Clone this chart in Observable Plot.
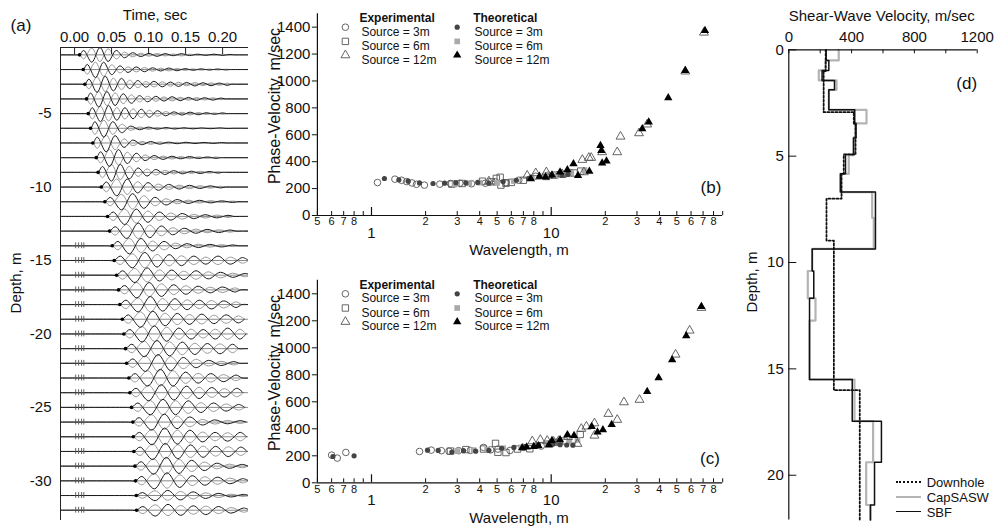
<!DOCTYPE html>
<html>
<head>
<meta charset="utf-8">
<script src="https://cdn.jsdelivr.net/npm/d3@7"></script>
<script src="https://cdn.jsdelivr.net/npm/@observablehq/plot@0.6"></script>
<style>
  html, body { margin: 0; padding: 0; background: #fff; overflow: hidden; }
  #fig { position: relative; width: 994px; height: 531px; font-family: "Liberation Sans", Arial, sans-serif; color: #111; }
  #fig svg { position: absolute; left: 0; top: 0; max-width: none !important; }
  .lbl { position: absolute; white-space: nowrap; line-height: 1; transform: translate(-50%, -50%); }
  .lbl.rot { transform: translate(-50%, -50%) rotate(-90deg); }
  .lg { position: absolute; font-size: 13px; line-height: 1; transform: translateY(-50%); white-space: nowrap; }
  .lgline { position: absolute; width: 25px; height: 0; }
</style>
</head>
<body>
<div id="fig"></div>
<script>
// ---------------- Panel (a): downhole seismograms ----------------
const traceDepth = [1,2,3,4,5,6,7,8,9,10,11,12,13,14,15,16,17,18,19,20,21,22,23,24,25,26,27,28,29,30,31,32];
const arrival = [0.0068,0.0117,0.0139,0.0162,0.0185,0.0216,0.0247,0.0293,0.0318,0.0361,0.0409,0.0446,0.0473,0.0509,0.0536,0.0568,0.0595,0.0612,0.0645,0.0666,0.0689,0.0703,0.0734,0.0747,0.0770,0.0788,0.0793,0.0801,0.0815,0.0824,0.0834,0.0838];
const period = [0.022,0.022,0.022,0.022,0.022,0.024,0.024,0.024,0.024,0.028,0.030,0.031,0.031,0.031,0.033,0.033,0.033,0.033,0.033,0.033,0.034,0.034,0.034,0.034,0.034,0.034,0.034,0.034,0.034,0.034,0.034,0.034];
const traceAmps = [
  [0.3,0.5,0.5,0.45,0.3,0.2,0.15,0.12,0.1,0.1,0.08,0.06,0.08,0.05,0.05,0.04,0.05,0.04,0.03],
  [0.35,0.55,0.5,0.35,0.25,0.2,0.18,0.15,0.12,0.1,0.1,0.08,0.06,0.05,0.05,0.04,0.04,0.03],
  [0.35,0.55,0.55,0.45,0.4,0.3,0.25,0.2,0.2,0.18,0.15,0.15,0.12,0.12,0.1,0.1,0.08,0.08],
  [0.4,0.55,0.5,0.45,0.35,0.3,0.22,0.2,0.18,0.15,0.15,0.12,0.1,0.1,0.08,0.08,0.06],
  [0.4,0.55,0.55,0.45,0.4,0.35,0.3,0.25,0.2,0.15,0.12,0.1,0.1,0.08,0.06,0.05,0.05],
  [0.45,0.6,0.45,0.3,0.15,0.1,0.08,0.06,0.05,0.05,0.04,0.04,0.03,0.03,0.03,0.02],
  [0.4,0.6,0.5,0.3,0.2,0.12,0.1,0.08,0.06,0.05,0.05,0.04,0.04,0.03,0.03],
  [0.4,0.6,0.55,0.4,0.3,0.2,0.15,0.12,0.1,0.08,0.08,0.06,0.05,0.05],
  [0.4,0.6,0.55,0.45,0.3,0.25,0.2,0.15,0.12,0.1,0.08,0.08,0.06,0.05],
  [0.35,0.6,0.55,0.4,0.3,0.22,0.18,0.14,0.12,0.1,0.08,0.06],
  [0.3,0.55,0.55,0.45,0.3,0.22,0.15,0.12,0.1,0.08,0.06,0.05],
  [0.3,0.55,0.5,0.4,0.3,0.25,0.2,0.15,0.12,0.1,0.08],
  [0.3,0.5,0.55,0.45,0.35,0.25,0.2,0.15,0.12,0.1,0.08],
  [0.3,0.55,0.5,0.35,0.3,0.2,0.15,0.12,0.1,0.08,0.06],
  [0.3,0.5,0.55,0.45,0.4,0.35,0.3,0.25,0.3,0.25,0.2],
  [0.3,0.5,0.5,0.4,0.35,0.3,0.3,0.25,0.2,0.15,0.12],
  [0.3,0.55,0.5,0.45,0.35,0.3,0.25,0.2,0.2,0.15],
  [0.3,0.5,0.55,0.45,0.4,0.35,0.3,0.3,0.25,0.2],
  [0.3,0.55,0.55,0.45,0.4,0.35,0.35,0.3,0.3,0.25],
  [0.3,0.55,0.55,0.5,0.4,0.35,0.3,0.35,0.4,0.35],
  [0.3,0.55,0.55,0.5,0.45,0.4,0.35,0.35,0.3],
  [0.3,0.55,0.6,0.5,0.4,0.3,0.2,0.15,0.12],
  [0.3,0.55,0.6,0.55,0.4,0.35,0.3,0.25,0.2],
  [0.3,0.55,0.55,0.5,0.45,0.4,0.35,0.3,0.3],
  [0.3,0.5,0.55,0.5,0.45,0.35,0.3,0.25,0.2],
  [0.3,0.55,0.55,0.45,0.35,0.2,0.15,0.12,0.1],
  [0.3,0.55,0.6,0.5,0.45,0.35,0.3,0.3,0.3],
  [0.3,0.55,0.55,0.5,0.45,0.4,0.35,0.35,0.3],
  [0.3,0.55,0.6,0.5,0.4,0.3,0.2,0.15,0.12],
  [0.3,0.55,0.55,0.45,0.35,0.3,0.25,0.2,0.15],
  [0.2,0.35,0.35,0.3,0.25,0.2,0.15,0.1,0.08],
  [0.25,0.4,0.4,0.35,0.3,0.3,0.25,0.2,0.15]
];
const spikeTimes = [0.0015, 0.0055, 0.0095, 0.0125];
const spikeFromDepth = 14;
const timeTicks = [0, 0.05, 0.10, 0.15, 0.20];
const depthTicksA = [-5, -10, -15, -20, -25, -30];
const timeDomain = [-0.019, 0.235];
const depthDomainA = [-32.7, -0.5];

// ---------------- Panels (b), (c): dispersion curves ----------------
// [wavelength m, phase velocity m/s]
const bExp3 = [[1.08,245],[1.35,270],[1.47,262],[1.57,252],[1.68,242],[1.78,232],[1.97,226],[2.4,233],[2.75,238],[3.1,240],[3.6,236],[4.3,240],[4.9,250],[5.6,244],[6.6,262],[8.2,292],[9.6,300],[11,305],[12.8,318]];
const bThe3 = [[1.18,275],[1.42,265],[1.6,255],[1.85,242],[2.2,238],[2.55,240],[2.95,244],[3.35,242],[3.9,246],[4.5,240],[5.4,252],[6.4,262],[7.5,276],[8.6,286],[10,294],[11.5,300],[12.4,305]];
const bExp6 = [[2.8,233],[3.2,238],[4.15,255],[4.65,250],[4.95,276],[5.2,284],[5.25,226],[5.6,240],[6.0,246],[7.0,262],[9.4,290],[10.4,300],[11.6,306],[13.4,316],[14.6,330]];
const bThe6 = [[2.9,231],[3.5,240],[4.0,244],[5.0,242],[6.2,256],[7.8,280],[9.2,298],[10.8,300],[12.9,316],[15.3,338]];
const bExp12 = [[4.5,254],[7.35,297],[8.2,315],[9.4,322],[11.5,308],[14.9,414],[15.2,322],[16.2,429],[16.7,429],[19.2,471],[23.3,471],[24.3,587],[30.8,612],[34.2,677],[55.7,1071],[70.8,1360]];
const bThe12 = [[7.7,273],[8.6,292],[9.3,285],[10.1,300],[11.2,322],[12.3,340],[13.3,384],[14.1,297],[16.3,329],[18.8,520],[19.0,483],[19.2,389],[20.3,404],[32.1,644],[34.9,694],[44.8,875],[55.7,1078],[71.7,1375]];

const cExp3 = [[0.6,205],[0.645,183],[0.72,225],[1.85,232],[2.15,242],[2.45,238],[2.7,234],[3.05,238],[3.55,240],[4.2,262],[4.6,244],[5.05,250],[5.9,240],[7.0,262],[8.8,272]];
const cThe3 = [[0.61,195],[0.8,200],[2.05,242],[2.35,240],[2.8,228],[3.25,238],[3.8,234],[4.5,240],[5.3,256],[6.2,262],[7.2,268],[8.5,282],[10.2,285],[11.2,282],[12.2,280],[13.2,278]];
const cExp6 = [[2.75,235],[3.35,246],[4.2,250],[4.9,292],[5.05,226],[5.6,224],[6.5,250],[7.6,252],[10.5,300],[11.8,310],[13.2,318],[14.5,358]];
const cThe6 = [[3.0,235],[3.7,242],[4.4,246],[5.4,256],[6.8,262],[8.2,276],[9.5,296],[11,300],[12.6,306],[14,318]];
const cExp12 = [[7.85,308],[8.7,318],[9.5,312],[10.3,305],[11,310],[12.4,340],[14.0,289],[14.7,400],[15.7,417],[17.4,441],[17.4,350],[20.8,511],[23.3,467],[25.4,597],[31,615],[49.2,950],[58.9,1128],[68.5,1296]];
const cThe12 = [[6.9,259],[7.3,265],[8.0,268],[8.5,273],[9.7,280],[10.1,312],[11.2,318],[12.3,355],[13.4,350],[16.8,417],[18.1,375],[19.4,393],[21.7,432],[34.2,676],[39.6,778],[47.1,911],[56.4,1089],[68.5,1306]];

const wlDomain = [0.5, 90];
const pvDomain = [0, 1500];
const pvTicks = [0, 200, 400, 600, 800, 1000, 1200, 1400];
const wlMinorTicks = [0.5,0.6,0.7,0.8,0.9,2,3,4,5,6,7,8,9,20,30,40,50,60,70,80,90];
const wlLabeled = [0.5,0.6,0.7,0.8,2,3,4,5,6,7,8,20,30,40,50,60,70,80];
const wlLabelText = ["5","6","7","8","2","3","4","5","6","7","8","2","3","4","5","6","7","8"];
const wlMajorTicks = [1, 10];
const legendHeads = ["Experimental", "Theoretical"];
const legendRows = ["Source = 3m", "Source = 6m", "Source = 12m"];

// ---------------- Panel (d): shear-wave velocity profiles ----------------
// layer top depth (m) and velocity (m/s)
const sbfTop = [0,0.5,0.97,1.44,1.88,2.82,3.45,4.15,4.92,5.83,6.69,9.36,10.4,11.68,15.5,17.46,19.39,21.4];
const sbfVs  = [238,255,212,291,255,420,428,412,361,329,552,149,159,132,404,590,546,520];
const capTop = [0,0.5,0.97,1.44,1.88,2.82,3.46,4.11,4.95,5.83,6.69,7.9,9.36,10.4,11.68,12.73,15.5,17.46,19.39,21.4];
const capVs  = [318,234,191,304,255,495,425,414,382,329,531,541,149,121,170,132,418,537,493,520];
const dhTop  = [0,1.0,2.93,3.5,4.92,5.83,7.0,8.97,16.0];
const dhVs   = [235,222,414,425,350,336,240,287,452];
const vsDomain = [0, 1200];
const depthDomainD = [0, 22.1];
const vsTicks = [0,200,400,600,800,1000,1200];
const vsLabels = [0,400,800,1200];
const depthTicksD = [0,5,10,15,20];
const profileNames = ["Downhole", "CapSASW", "SBF"];

// ================= drawing =================
const W = 994, H = 531;
const FONT = "Liberation Sans, Arial, Helvetica, sans-serif";
const baseStyle = {fontFamily: FONT, fontSize: "15px", background: "transparent", overflow: "visible", color: "#111"};
const fig = document.getElementById("fig");

// ---- (a)
const [tMin, tMax] = timeDomain;
const tracePts = [];
traceDepth.forEach((d, i) => {
  const t0 = arrival[i], P = period[i], amps = traceAmps[i];
  const pts = [[tMin, 0], [t0 - P / 4, 0], [t0, 0]];
  amps.forEach((a, k) => pts.push([t0 + P / 4 + k * P / 2, (k % 2 ? -1 : 1) * a]));
  const tEnd = t0 + P / 4 + (amps.length - 1) * P / 2 + P / 4;
  pts.push([tEnd, 0]);
  if (tEnd + P / 4 < tMax) { pts.push([tEnd + P / 4, 0]); pts.push([tMax, 0]); }
  pts.forEach(([t, a]) => tracePts.push({trace: d, t, black: -d + a, gray: -d - 0.92 * a}));
});
const spikes = [];
traceDepth.filter(d => d >= spikeFromDepth).forEach(d => spikeTimes.forEach(t => spikes.push({d, t})));

const aTop = 47, aBottom = 520, aLeft = 60, aRight = 248;
const plotA = Plot.plot({
  width: W, height: H,
  marginLeft: aLeft, marginRight: W - aRight, marginTop: aTop, marginBottom: H - aBottom,
  style: baseStyle,
  x: {domain: timeDomain, axis: null},
  y: {domain: depthDomainA, axis: null},
  marks: [
    Plot.ruleY(traceDepth, {y: d => -d, stroke: "#8a8a8a", strokeWidth: 1}),
    Plot.line(tracePts, {x: "t", y: "gray", z: "trace", stroke: "#9a9a9a", strokeWidth: 1, curve: "catmull-rom", clip: true}),
    Plot.line(tracePts, {x: "t", y: "black", z: "trace", stroke: "#1a1a1a", strokeWidth: 1, curve: "catmull-rom", clip: true}),
    Plot.ruleX(spikes, {x: "t", y1: d => -d.d - 0.2, y2: d => -d.d + 0.2, stroke: "#555", strokeWidth: 0.9}),
    Plot.dot(traceDepth, {x: (d, i) => arrival[i], y: d => -d, r: 1.8, fill: "#000"}),
    Plot.ruleX([timeDomain[0]], {stroke: "#222", strokeWidth: 1}),
    Plot.ruleY([depthDomainA[1]], {stroke: "#222", strokeWidth: 1}),
    Plot.ruleX(timeTicks, {stroke: "#222", insetBottom: (aBottom - aTop) - 7}),
    Plot.text(timeTicks, {x: d => d, text: d => d3.format(".2f")(d), frameAnchor: "top", lineAnchor: "bottom", dy: -6, fontSize: 15}),
    Plot.text(depthTicksA, {y: d => d, text: d => String(d), frameAnchor: "left", textAnchor: "end", dx: -9, fontSize: 15})
  ]
});
fig.appendChild(plotA);

// ---- (b), (c)
const xL = 316.9, xR = 722.2;
function dispersion(top, bottom, sets) {
  const [e3, t3, e6, t6, e12, t12] = sets;
  const legend = [];
  const hx = [42, 155.8], sx = [28, 139.8], tx = [44, 157.1], ry = [13.5, 27.7, 41.5];
  legend.push(Plot.text([legendHeads[0]], {text: d => d, frameAnchor: "top-left", dx: hx[0], dy: 0, textAnchor: "start", fontWeight: "bold", fontSize: 12}));
  legend.push(Plot.text([legendHeads[1]], {text: d => d, frameAnchor: "top-left", dx: hx[1], dy: 0, textAnchor: "start", fontWeight: "bold", fontSize: 12}));
  const expSty = [
    {symbol: "circle", r: 3.3, stroke: "#555", fill: "none", strokeWidth: 0.9},
    {symbol: "square", r: 3.6, stroke: "#555", fill: "none", strokeWidth: 0.9},
    {symbol: "triangle", r: 3.3, stroke: "#555", fill: "none", strokeWidth: 0.9}
  ];
  const theSty = [
    {symbol: "circle", r: 2.6, fill: "#444", stroke: "none"},
    {symbol: "square", r: 3.2, fill: "#aaa", stroke: "none"},
    {symbol: "triangle", r: 3.1, fill: "#000", stroke: "none"}
  ];
  legendRows.forEach((lab, i) => {
    legend.push(Plot.dot([lab], {frameAnchor: "top-left", dx: sx[0], dy: ry[i], ...expSty[i]}));
    legend.push(Plot.dot([lab], {frameAnchor: "top-left", dx: sx[1], dy: ry[i], ...theSty[i]}));
    legend.push(Plot.text([lab], {text: d => d, frameAnchor: "top-left", dx: tx[0], dy: ry[i], textAnchor: "start", fontSize: 12}));
    legend.push(Plot.text([lab], {text: d => d, frameAnchor: "top-left", dx: tx[1], dy: ry[i], textAnchor: "start", fontSize: 12}));
  });
  const ph = bottom - top, pw = xR - xL;
  return Plot.plot({
    width: W, height: H,
    marginLeft: xL, marginRight: W - xR, marginTop: top, marginBottom: H - bottom,
    style: baseStyle,
    x: {type: "log", domain: wlDomain, axis: null},
    y: {domain: pvDomain, axis: null},
    marks: [
      Plot.dot(e3, {x: d => d[0], y: d => d[1], ...expSty[0]}),
      Plot.dot(e6, {x: d => d[0], y: d => d[1], ...expSty[1]}),
      Plot.dot(t6, {x: d => d[0], y: d => d[1], ...theSty[1]}),
      Plot.dot(e12, {x: d => d[0], y: d => d[1], ...expSty[2]}),
      Plot.dot(t3, {x: d => d[0], y: d => d[1], ...theSty[0]}),
      Plot.dot(t12, {x: d => d[0], y: d => d[1], ...theSty[2]}),
      Plot.ruleY([pvDomain[0]], {stroke: "#111", strokeWidth: 1.2}),
      Plot.ruleX([wlDomain[0]], {stroke: "#111", strokeWidth: 1.2}),
      Plot.ruleX(wlMinorTicks, {stroke: "#111", insetTop: ph - 4}),
      Plot.ruleX(wlMajorTicks, {stroke: "#111", strokeWidth: 1.2, insetTop: ph - 8}),
      Plot.text(wlLabeled, {x: d => d, text: (d, i) => wlLabelText[i], frameAnchor: "bottom", lineAnchor: "top", dy: 2, fontSize: 11}),
      Plot.text(wlMajorTicks, {x: d => d, text: d => String(d), frameAnchor: "bottom", lineAnchor: "top", dy: 12, fontSize: 15}),
      Plot.ruleY(pvTicks, {stroke: "#111", insetLeft: -5, insetRight: pw}),
      Plot.text(pvTicks, {y: d => d, text: d => String(d), frameAnchor: "left", textAnchor: "end", dx: -7, fontSize: 15}),
      ...legend
    ]
  });
}
fig.appendChild(dispersion(13.2, 215, [bExp3, bThe3, bExp6, bThe6, bExp12, bThe12]));
fig.appendChild(dispersion(279.8, 482.3, [cExp3, cThe3, cExp6, cThe6, cExp12, cThe12]));

// ---- (d)
function profile(tops, vs, name) {
  const pts = tops.map((t, i) => ({name, v: vs[i], depth: t}));
  pts.push({name, v: vs[vs.length - 1], depth: depthDomainD[1]});
  return pts;
}
const dTop = 49.3, dBottom = 519.4, dLeft = 788.3, dRight = 976.7;
const plotD = Plot.plot({
  width: W, height: H,
  marginLeft: dLeft, marginRight: W - dRight, marginTop: dTop, marginBottom: H - dBottom,
  style: baseStyle,
  x: {domain: vsDomain, axis: null},
  y: {domain: depthDomainD, reverse: true, axis: null},
  marks: [
    Plot.line(profile(capTop, capVs, profileNames[1]), {x: "v", y: "depth", curve: "step-before", stroke: "#b4b4b4", strokeWidth: 2.2}),
    Plot.line(profile(dhTop, dhVs, profileNames[0]), {x: "v", y: "depth", curve: "step-before", stroke: "#111", strokeWidth: 1.8, strokeDasharray: "2,2"}),
    Plot.line(profile(sbfTop, sbfVs, profileNames[2]), {x: "v", y: "depth", curve: "step-before", stroke: "#111", strokeWidth: 1.5}),
    Plot.ruleY([depthDomainD[0]], {stroke: "#111", strokeWidth: 1.2}),
    Plot.ruleX([vsDomain[0]], {stroke: "#111", strokeWidth: 1.2}),
    Plot.ruleX(vsTicks, {stroke: "#111", insetBottom: (dBottom - dTop) - 4}),
    Plot.ruleY(depthTicksD, {stroke: "#111", insetRight: (dRight - dLeft) - 8}),
    Plot.text(vsLabels, {x: d => d, text: d => String(d), frameAnchor: "top", lineAnchor: "bottom", dy: -8, fontSize: 15}),
    Plot.text(depthTicksD, {y: d => d, text: d => String(d), frameAnchor: "left", textAnchor: "end", dx: -5, fontSize: 15})
  ]
});
fig.appendChild(plotD);

// ---- HTML text labels
function label(text, x, y, size, opts = {}) {
  const el = document.createElement("div");
  el.className = "lbl" + (opts.rot ? " rot" : "");
  el.textContent = text;
  el.style.left = x + "px"; el.style.top = y + "px"; el.style.fontSize = size + "px";
  fig.appendChild(el);
}
label("(a)", 21, 25, 17);
label("Time, sec", 155, 14, 15);
label("Depth, m", 15, 283, 15, {rot: true});
label("Phase-Velocity, m/sec", 275, 106, 16, {rot: true});
label("Phase-Velocity, m/sec", 275, 373, 16, {rot: true});
label("Wavelength, m", 519, 249.4, 15);
label("Wavelength, m", 519, 516.7, 15);
label("(b)", 711, 187, 17);
label("(c)", 710, 458, 17);
label("Shear-Wave Velocity, m/sec", 881.7, 15, 15);
label("Depth, m", 751, 282, 15, {rot: true});
label("(d)", 966.7, 83.3, 17);

// legend for (d)
const lgY = [481.7, 496.7, 511.7];
const lgStyles = ["2px dotted #111", "2.2px solid #b4b4b4", "1.5px solid #111"];
profileNames.forEach((n, i) => {
  const ln = document.createElement("div");
  ln.className = "lgline";
  ln.style.left = "896px"; ln.style.top = (lgY[i] - 1) + "px"; ln.style.borderTop = lgStyles[i];
  fig.appendChild(ln);
  const t = document.createElement("div");
  t.className = "lg"; t.textContent = n;
  t.style.left = "926.7px"; t.style.top = lgY[i] + "px";
  fig.appendChild(t);
});
</script>
</body>
</html>
